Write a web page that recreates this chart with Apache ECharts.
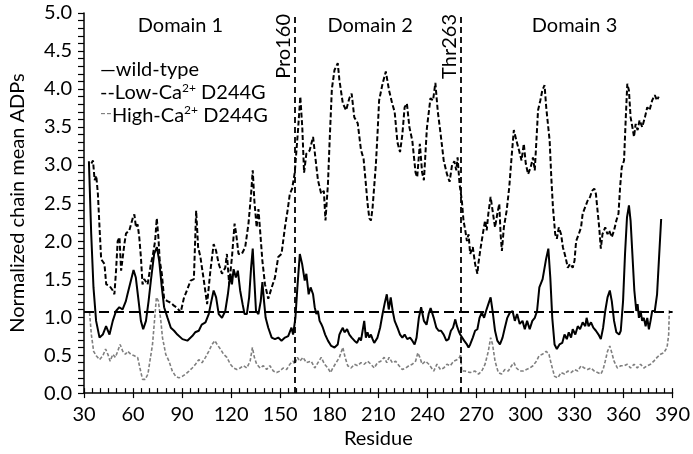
<!DOCTYPE html>
<html><head><meta charset="utf-8">
<script src="https://cdn.jsdelivr.net/npm/echarts@6/dist/echarts.min.js"></script>
<style>html,body{margin:0;padding:0;background:#fff}#c{width:693px;height:454px}</style>
</head><body><div id="c"></div>
<script>
// ---------- data ----------
const xTickValues = [30,60,90,120,150,180,210,240,270,300,330,360,390];
const yTickValues = [0,0.5,1,1.5,2,2.5,3,3.5,4,4.5,5];

const wtRes = [33,34.4,35.8,37.4,39.5,41.5,43.5,45.6,47.6,49.6,51.6,53.6,55.6,56.6,58.7,60.3,61.7,63.4,64.8,66.2,67.9,69.5,70.9,72.9,74.6,76,77.6,79,81.1,83.1,85.1,87.1,90.2,93.2,96.2,98,100.2,102,104.3,106.3,107.9,109.3,110.8,112.4,114.4,116.4,118,119.5,120.5,121.5,122.9,124.1,125.5,127,128.2,129.6,131,132.2,133.2,134.2,135.2,136.7,138.1,139.1,140.1,141.1,142.7,144.8,146.8,148.8,150.8,152.9,154.9,156.9,157.9,159.3,160.5,162,163.4,165,166,167.4,168.6,170.1,171.1,172.1,173.1,174.1,175.1,176.1,177.5,179.2,181.2,183.2,185.2,186.2,187.3,188.3,189.3,190.9,192.3,193.7,195.4,197,198.4,199.4,200.4,201.4,202.4,203.4,204.5,205.5,206.5,207.5,209.5,211.1,212.6,214,215.2,216.4,217.6,218.8,220,221.7,223.3,224.7,226.1,227.7,229.4,230.8,232.2,233.4,234.8,236.2,237.9,239.5,240.9,242,243.9,245.5,246.9,248.4,250,251.6,253,254.4,255.7,257.1,258.1,259.1,260.1,261.1,262.5,264.2,265.2,266.2,267.8,269.2,270.6,271.9,273.3,274.7,275.9,277.3,278.7,279.9,281.4,282.8,284.4,286,287.4,288.9,290.5,292.1,293.5,294.9,296.5,298.2,299.6,301,302.6,304.2,305.7,307.1,308.5,310.5,312.5,314,315.2,316.4,317.8,319.2,320.8,322.5,323.9,325.3,326.5,327.9,328.9,330.5,332,333.4,335,336.6,337.4,338.6,340.1,341.5,343.1,344.7,346.1,347.5,348.8,350.2,351.6,352.8,354.2,355.6,357.3,358.3,359.7,360.9,362.1,363.3,364.3,365.4,366.6,367.8,368.6,369.4,370.4,371.4,372.4,373.5,374.5,375.5,376.5,377.5,379.1,380.5,381.5,383];
const wtVal = [3.05,2.1,1.39,0.95,0.73,0.77,0.88,0.77,0.95,1.08,1.13,1.1,1.21,1.3,1.48,1.62,1.52,1.21,0.95,0.84,0.95,1.21,1.48,1.83,1.92,1.74,1.39,1.13,0.99,0.86,0.82,0.77,0.71,0.69,0.75,0.8,0.82,0.9,0.93,1.04,1.21,1.35,1.26,1.04,0.99,1.08,1.3,1.57,1.43,1.63,1.52,1.61,1.35,1.17,1.04,1.04,1.26,1.65,1.9,1.48,1.08,1.04,1.21,1.46,1.21,0.99,0.86,0.73,0.71,0.73,0.69,0.73,0.75,0.86,0.77,0.99,1.39,1.83,1.7,1.48,1.57,1.3,1.39,1.3,1.13,1.04,1.08,0.95,0.91,0.86,0.77,0.69,0.62,0.6,0.64,0.77,0.82,0.86,0.8,0.84,0.77,0.73,0.69,0.66,0.73,0.69,0.82,0.95,0.73,0.8,0.73,0.77,0.71,0.66,0.73,0.86,1.04,1.19,1.3,1.1,1.26,1.08,0.95,0.86,0.77,0.73,0.77,0.71,0.73,0.69,0.64,0.73,0.99,1.13,0.95,0.9,1.05,1.12,0.99,0.86,0.82,0.82,0.77,0.69,0.71,0.82,0.86,0.97,0.88,0.82,0.77,0.75,0.69,0.64,0.6,0.64,0.73,0.82,0.84,0.99,1.06,0.99,1.08,1.17,1.26,1.08,0.82,0.69,0.64,0.73,0.86,0.99,1.06,1.08,0.95,1.04,0.91,0.95,0.84,0.95,0.84,0.95,0.99,1.08,1.39,1.5,1.75,1.9,1.52,0.99,0.64,0.58,0.64,0.66,0.77,0.71,0.8,0.73,0.84,0.77,0.88,0.84,0.93,0.88,0.99,0.88,0.93,0.86,0.82,0.77,0.71,0.86,1.08,1.26,1.35,1.21,0.95,0.8,0.77,0.82,1.21,1.83,2.31,2.47,2.27,1.83,1.35,1.08,1.17,0.99,1.08,0.95,0.99,0.88,0.99,0.84,0.95,1.08,1.08,1.3,1.7,2.29];

const lowRes = [34.5,35.5,36.5,37.5,38.5,39.5,40.5,42.5,43.6,45.6,47.6,48.6,49.6,50.6,51.7,52.7,53.7,54.7,55.7,57.7,59.8,60.8,61.8,62.8,63.8,64.8,65.8,66.8,68.9,70.9,71.9,73.5,74.5,75.5,76.3,77.6,79,81,83,85,87.1,89.1,91.1,93.1,95.2,97.2,98.6,99.8,101.2,103.3,105.3,107.3,109.3,110.8,112.4,114.4,116.4,117.4,118.8,120.5,122.1,123.1,124.5,126.5,128.6,130.6,132.2,133.2,134.2,135.6,136.7,137.7,139.1,140.7,142.7,144.8,146.8,148.8,150.8,152.9,154.5,155.9,157.3,158.9,160.9,162.3,163.5,164.6,166,168,170.1,171.5,173.1,175.1,176.7,177.7,179.2,180.2,181.6,183.2,185.2,186.2,188.3,190.3,192.3,193.7,195.3,197.4,199.4,201,202.4,203.4,204.5,205.5,206.5,208.5,209.5,210.5,212.6,214.6,216.6,218.6,220,221.7,223.3,224.7,226.1,227.5,229,230.8,232.8,233.8,235.4,236.8,237.9,239.7,241.9,243.5,244.9,246.4,248,250,252,253.6,255.1,256.5,257.7,258.5,259.7,261.1,262.1,263.2,264.2,265.2,266.2,267.8,269.2,270.6,271.2,272.3,273.9,275.3,276.3,277.3,278.7,279.9,281.4,282.8,284,284.8,285.6,286.8,288.5,290.1,291.5,292.9,294.5,296.1,297.6,299,300.2,301.6,303.2,304.6,305.7,306.7,307.7,309.1,310.3,311.7,312.7,313.8,314.8,315.8,316.8,318.2,319.2,320.4,321.8,322.9,324.5,325.9,327.3,328.9,330,331,332.6,334,335,336.6,338,339.5,340.7,342.1,343.1,344.1,345.1,346.1,347.1,348.8,350.2,351.2,352.8,354.2,355.6,356.9,357.9,358.9,360.3,361.3,362.3,363.3,364.3,365.4,366.4,367.4,368.6,369.8,371.4,373.1,374.5,375.9,377.5,379.1,380.5,381.5];
const lowVal = [3.02,3.06,2.8,2.86,2.62,2.18,1.76,1.7,1.43,1.41,1.35,1.3,1.61,2,2.05,1.61,1.79,1.96,2.1,2.14,2.3,2.35,2.18,2.22,2.05,1.79,1.43,1.5,1.43,1.7,1.79,2,2.3,2.05,1.75,1.57,1.24,1.21,1.19,1.15,1.12,1.06,1.25,1.36,1.48,1.5,2.4,1.92,1.79,1.48,1.17,1.61,1.96,1.87,1.7,1.57,1.65,1.83,1.43,1.79,2.23,2.09,1.83,1.83,1.92,2.23,2.62,2.93,2.53,2.18,2.42,2.14,1.74,1.43,1.24,1.39,1.52,1.79,1.83,2.18,2.4,2.62,2.69,2.9,3.46,3.9,3.5,2.9,3.15,3.19,3.37,3.1,2.8,2.62,2.66,2.27,2.75,3.3,4,4.25,4.34,4.12,3.81,3.72,3.88,3.94,3.63,3.55,3.2,3.08,2.75,2.5,2.3,2.27,2.44,3,3.4,3.85,4.07,4.23,3.98,3.8,3.7,3.3,3.17,3.4,3.76,3.81,3.5,3.32,2.9,2.84,3.28,2.9,2.8,3.48,3.88,3.85,4.08,3.7,3.43,3.06,2.88,2.78,3,3.05,2.93,3.1,2.75,2.53,2.27,2.14,2,2.09,1.83,1.92,1.7,1.57,1.7,1.87,2.09,2.27,2.14,2.36,2.58,2.4,2.18,2.36,2.49,2.09,1.87,2.18,2.4,2.71,3.1,3.46,3.32,3.19,3.06,3.28,3.02,2.88,2.97,3.1,2.93,3.32,3.72,3.85,3.98,4.05,3.76,3.76,3.32,2.84,2.45,2.09,2.03,2.18,2.09,1.92,1.79,1.65,1.7,1.65,1.74,2,2.09,2.18,2.36,2.45,2.53,2.58,2.66,2.69,2.62,2.4,2.18,1.9,2.09,2.18,2.09,2.14,2.05,2.14,2.27,2.36,2.71,2.97,3.06,3.59,4.07,3.98,3.63,3.5,3.37,3.54,3.46,3.59,3.5,3.63,3.76,3.72,3.85,3.92,3.85,3.9];

const highRes = [33.4,34.5,35.9,37.5,39.5,41.5,43.2,44.6,46,47.6,49.2,50.6,52.1,53.7,55.3,56.7,58.7,60.8,62.8,64.2,65.8,67.4,69.1,70.3,71.9,73.1,74.3,75.5,77,78,80,82,84,86.1,88.1,90.1,92.1,94.2,96.2,98.2,100.2,102.2,104.3,106.3,108.3,110,111.4,113.4,115.4,117.4,119.5,121.5,123.5,125.5,127.6,129.6,131.6,133,134.2,135.6,137.7,139.7,141.7,143.7,145.8,147.8,149.8,151.8,153.9,155.9,157.9,158.9,160.5,162,164,166,167,169,171.1,173.1,175.1,177.1,179.2,180.8,182.2,184.2,186.2,188.3,189.7,191.3,193.3,195.4,197.4,199.4,201.4,203.4,205.5,207.5,209.5,211.5,213.6,215.2,216.6,218.6,220.6,222.7,224.7,226.7,228.7,230.8,232.8,234.2,235.4,236.8,238.9,240.9,241.9,243.9,245.9,248,250,252,254,256.1,258.1,259.7,260.4,261,263,266.2,269.2,271.3,273.3,275.3,277.3,278.7,279.9,281.4,283.4,285.4,287.4,289.5,291.5,292.9,294.5,296.5,298.6,300.6,302.6,304.6,306.7,308.3,310.3,312.7,314.4,315.8,317.8,319.8,321.8,323.9,325.9,327.9,330,332,334,336,338,340.1,342.1,344.1,346.1,347.5,348.8,350.2,351.6,352.8,354.2,356.2,358.3,360.3,362.3,364.3,366.4,368.4,370.4,372.4,374.5,376.5,378.5,380.5,382.6,384.6,386.6,387.6,388];
const highVal = [1.06,0.77,0.55,0.49,0.44,0.49,0.58,0.51,0.42,0.51,0.47,0.55,0.64,0.55,0.51,0.55,0.51,0.49,0.47,0.33,0.18,0.18,0.25,0.42,0.64,0.95,1.26,1.21,0.95,0.73,0.51,0.42,0.29,0.22,0.2,0.22,0.25,0.29,0.33,0.38,0.44,0.4,0.47,0.55,0.64,0.69,0.64,0.58,0.51,0.47,0.38,0.33,0.31,0.33,0.36,0.33,0.42,0.6,0.47,0.38,0.33,0.36,0.31,0.36,0.29,0.27,0.29,0.33,0.31,0.38,0.42,0.38,0.47,0.42,0.47,0.4,0.38,0.42,0.33,0.4,0.47,0.38,0.33,0.27,0.33,0.4,0.47,0.6,0.47,0.36,0.33,0.38,0.36,0.4,0.38,0.42,0.38,0.33,0.4,0.42,0.47,0.4,0.47,0.4,0.42,0.36,0.31,0.33,0.36,0.38,0.42,0.53,0.47,0.38,0.42,0.38,0.36,0.29,0.38,0.31,0.33,0.38,0.36,0.42,0.44,0.47,0.51,0.29,0.29,0.27,0.29,0.25,0.29,0.38,0.55,0.73,0.64,0.42,0.27,0.25,0.31,0.29,0.36,0.4,0.33,0.29,0.29,0.31,0.33,0.36,0.42,0.49,0.51,0.55,0.51,0.38,0.22,0.2,0.27,0.25,0.29,0.27,0.31,0.29,0.36,0.33,0.31,0.33,0.29,0.27,0.25,0.31,0.42,0.55,0.62,0.53,0.42,0.33,0.36,0.36,0.38,0.33,0.38,0.33,0.38,0.33,0.36,0.38,0.42,0.47,0.51,0.53,0.6,0.77,1.1];

const seriesNames = ['wild-type', 'Low-Ca2+ D244G', 'High-Ca2+ D244G'];
const refLineValue = [1.07];
const markerRes = [158.7, 260.6];
const markerLabels = ['Pro160', 'Thr263'];
const domainLabels = ['Domain 1', 'Domain 2', 'Domain 3'];
const domainRes = [89, 205, 330];
const domainVal = [4.83, 4.83, 4.83];

// ---------- chart ----------
const FONT = 'Lato';
const pairs = (xs, ys) => xs.map((x, i) => [x, ys[i]]);
const chart = echarts.init(document.getElementById('c'), null, {renderer: 'canvas'});

const option = {
  animation: false,
  backgroundColor: '#fff',
  textStyle: {fontFamily: FONT, color: '#000'},
  grid: {left: 80, right: 18, top: 13, bottom: 57, containLabel: false},
  xAxis: [{
    type: 'value', min: 30, max: 390, interval: 30,
    name: 'Residue', nameLocation: 'middle', nameGap: 33,
    nameTextStyle: {fontFamily: FONT, fontSize: 20, color: '#000'},
    axisLine: {show: true, onZero: false, lineStyle: {color: '#000', width: 1.5}},
    axisTick: {show: true, inside: false, length: 5, lineStyle: {color: '#000', width: 1.2}},
    axisLabel: {fontFamily: FONT, fontSize: 20, color: '#000', margin: 11},
    splitLine: {show: false}
  }, {
    type: 'value', min: 30, max: 390, interval: 30, position: 'bottom',
    axisLine: {show: false},
    axisTick: {show: true, inside: true, length: 5, lineStyle: {color: '#000', width: 1.2}},
    minorTick: {show: true, splitNumber: 6, length: 5, lineStyle: {color: '#000', width: 1.2}},
    axisLabel: {show: false}, splitLine: {show: false}
  }],
  yAxis: {
    type: 'value', min: 0, max: 5, interval: 0.5,
    name: 'Normalized chain mean ADPs', nameLocation: 'middle', nameGap: 56,
    nameTextStyle: {fontFamily: FONT, fontSize: 20, color: '#000'},
    axisLine: {show: true, onZero: false, lineStyle: {color: '#000', width: 1.5}},
    axisTick: {show: true, inside: false, length: 6, lineStyle: {color: '#000', width: 1.2}},
    minorTick: {show: true, splitNumber: 5, length: 6, lineStyle: {color: '#000', width: 1.2}},
    axisLabel: {fontFamily: FONT, fontSize: 20, color: '#000', margin: 12,
      formatter: v => v.toFixed(1)},
    splitLine: {show: false}
  },
  series: [{
    name: seriesNames[0], type: 'line', data: pairs(wtRes, wtVal),
    showSymbol: false, symbol: 'none', smooth: false, z: 4,
    lineStyle: {color: '#000', width: 2}
  }, {
    name: seriesNames[1], type: 'line', data: pairs(lowRes, lowVal),
    showSymbol: false, symbol: 'none', smooth: false, z: 3,
    lineStyle: {color: '#000', width: 2, type: [5, 2.5]}
  }, {
    name: seriesNames[2], type: 'line', data: pairs(highRes, highVal),
    showSymbol: false, symbol: 'none', smooth: false, z: 2,
    lineStyle: {color: '#7f7f7f', width: 1.6, type: [3.5, 2]}
  }, {
    name: 'ref', type: 'line', data: [], z: 1,
    markLine: {
      silent: true, symbol: 'none', label: {show: false},
      data: [
        {yAxis: refLineValue[0], lineStyle: {color: '#000', width: 1.8, type: [10, 5]}},
        {xAxis: markerRes[0], lineStyle: {color: '#000', width: 1.8, type: [6, 4]}},
        {xAxis: markerRes[1], lineStyle: {color: '#000', width: 1.8, type: [6, 4]}}
      ]
    }
  }]
};
chart.setOption(option);

// annotations positioned through the chart's own scales
const px = (x, y) => chart.convertToPixel({xAxisIndex: 0, yAxisIndex: 0}, [x, y]);
const graphics = [];
domainLabels.forEach((t, i) => {
  const p = px(domainRes[i], domainVal[i]);
  graphics.push({type: 'text', x: p[0], y: p[1], z: 10,
    style: {text: t, fontFamily: FONT, fontSize: 20, fill: '#000', align: 'center', verticalAlign: 'middle'}});
});
markerLabels.forEach((t, i) => {
  const p = px(markerRes[i], 5);
  graphics.push({type: 'text', x: p[0] - 11, y: p[1] + 1, rotation: Math.PI / 2, z: 10,
    style: {text: t, fontFamily: FONT, fontSize: 20, fill: '#000', align: 'right', verticalAlign: 'middle'}});
});
const legendTop = 70, legendGap = 23, legendLeft = 100;
const rich = {
  t: {fontFamily: FONT, fontSize: 20, fill: '#000'},
  sup: {fontFamily: FONT, fontSize: 12, fill: '#000', verticalAlign: 'top', padding: [0, 0, 9, 0]},
  k: {fontFamily: FONT, fontSize: 20, fill: '#000'},
  g: {fontFamily: FONT, fontSize: 16, fill: '#808080', padding: [0, 0, 7, 0]}
};
const legendRows = [
  '{k|—}{t|wild-type}',
  '{k|--}{t|Low-Ca}{sup|2+}{t| D244G}',
  '{g|--}{t|High-Ca}{sup|2+}{t| D244G}'
];
legendRows.forEach((r, i) => {
  graphics.push({type: 'text', x: legendLeft, y: legendTop + i * legendGap, z: 10,
    style: {text: r, rich: rich, fontFamily: FONT, fontSize: 20, fill: '#000', align: 'left', verticalAlign: 'middle'}});
});
chart.setOption({graphic: graphics});
</script>
</body></html>
